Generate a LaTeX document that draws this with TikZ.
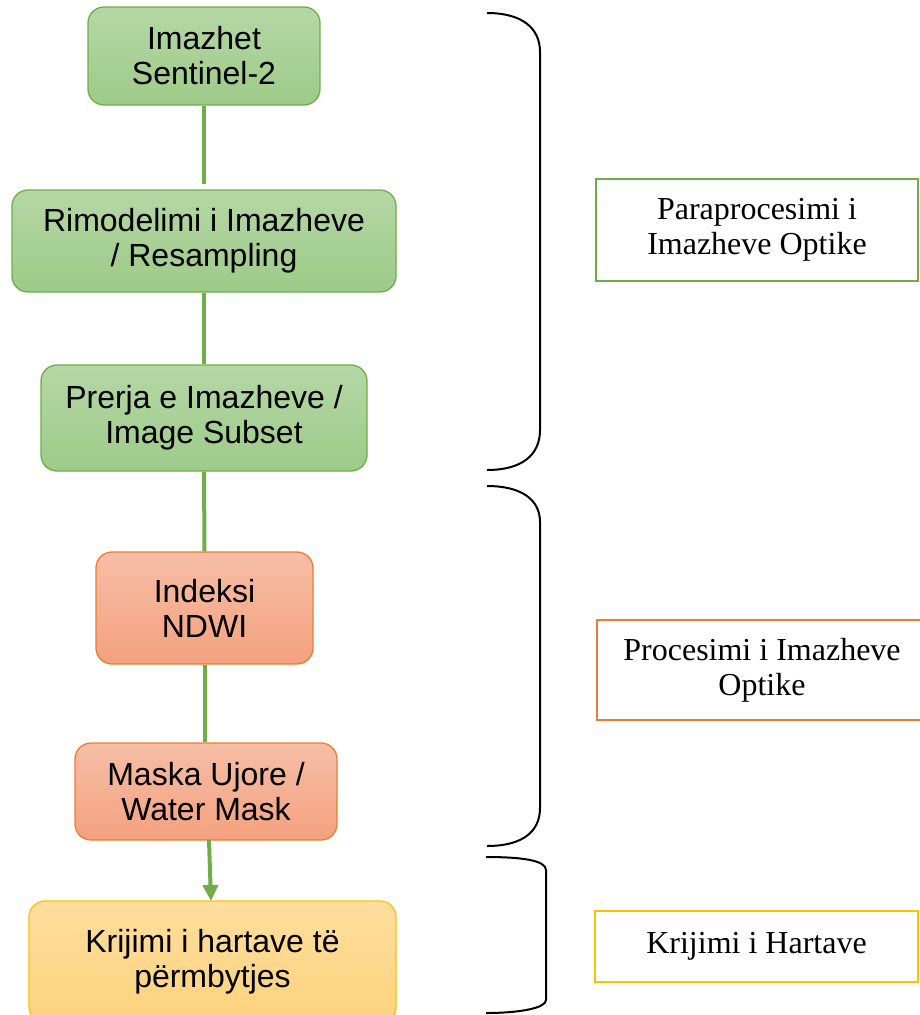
\documentclass[tikz,border=0pt]{standalone}
\usepackage{fontspec}
\setmainfont{Liberation Serif}
\newfontfamily\arialf{Liberation Sans}
\usetikzlibrary{arrows.meta}
\definecolor{gline}{HTML}{70AD47}
\definecolor{gtop}{HTML}{B5D7A6}
\definecolor{gbot}{HTML}{9DCB88}
\definecolor{oline}{HTML}{ED7D31}
\definecolor{otop}{HTML}{F6BEA6}
\definecolor{obot}{HTML}{F4A17E}
\definecolor{yline}{HTML}{FFC000}
\definecolor{ytop}{HTML}{FEDE9E}
\definecolor{ybot}{HTML}{FDD27C}
\tikzset{
  flowbox/.style={rounded corners=16pt, line width=1.3pt, align=center,
    font=\arialf\fontsize{32}{35}\selectfont, inner sep=0pt},
  greenbox/.style={flowbox, draw=gline, top color=gtop, bottom color=gbot},
  orangebox/.style={flowbox, draw=oline, top color=otop, bottom color=obot},
  yellowbox/.style={flowbox, draw=yline, top color=ytop, bottom color=ybot},
  sidebox/.style={line width=2pt, fill=white, align=center, inner sep=0pt,
    font=\fontsize{32}{35}\selectfont},
  link/.style={draw=gline, line width=4pt},
  bracel/.style={draw=black, line width=2pt}
}
\begin{document}
\begin{tikzpicture}[x=1pt,y=-1pt]
\useasboundingbox (0,0) rectangle (920,1015);
% left flow boxes
\node[greenbox, minimum width=232pt, minimum height=98pt] (b1) at (204,56) {Imazhet\\Sentinel-2};
\node[greenbox, minimum width=384pt, minimum height=102pt] (b2) at (204,241) {Rimodelimi i Imazheve\\/ Resampling};
\node[greenbox, minimum width=326pt, minimum height=106pt] (b3) at (204,418) {Prerja e Imazheve /\\Image Subset};
\node[orangebox, minimum width=217pt, minimum height=112pt] (b4) at (204.5,608) {Indeksi\\NDWI};
\node[orangebox, minimum width=262pt, minimum height=97pt] (b5) at (206,791.5) {Maska Ujore /\\Water Mask};
\node[yellowbox, minimum width=367pt, minimum height=122pt] (b6) at (212.5,962) {Krijimi i hartave t\"e\\p\"ermbytjes};
% connectors
\draw[link, shorten >=5pt] (b1.south) -- (b2.north);
\draw[link] (b2.south) -- (b3.north);
\draw[link] (b3.south) -- (b4.north);
\draw[link] (b4.south) -- (b5.north -| b4.south);
\coordinate (a1) at (209,840);
\coordinate (a2) at (211,901);
\draw[link, -{Triangle[width=15pt,length=16pt]}] (a1) -- (a2);
% braces
\draw[bracel] (487,13) .. controls (522,13) and (540,28) .. (540,52) -- (540,430) .. controls (540,455) and (522,470) .. (487,470);
\draw[bracel] (487,486) .. controls (522,486) and (540,500) .. (540,522) -- (540,808) .. controls (540,832) and (522,846) .. (487,846);
\draw[bracel] (486,857) .. controls (520,857) and (546,860) .. (546,870) -- (546,1000) .. controls (546,1008) and (520,1013) .. (486,1013);
% side boxes
\node[sidebox, draw=gline, minimum width=322pt, minimum height=102pt] (s1) at (757,230) {Paraprocesimi i\\Imazheve Optike};
\node[sidebox, draw=oline, minimum width=330pt, minimum height=100pt] (s2) at (762,670) {Procesimi i Imazheve\\Optike};
\node[sidebox, draw=yline, minimum width=323pt, minimum height=71pt] (s3) at (756.5,946.5) {Krijimi i Hartave};
\end{tikzpicture}
\end{document}
